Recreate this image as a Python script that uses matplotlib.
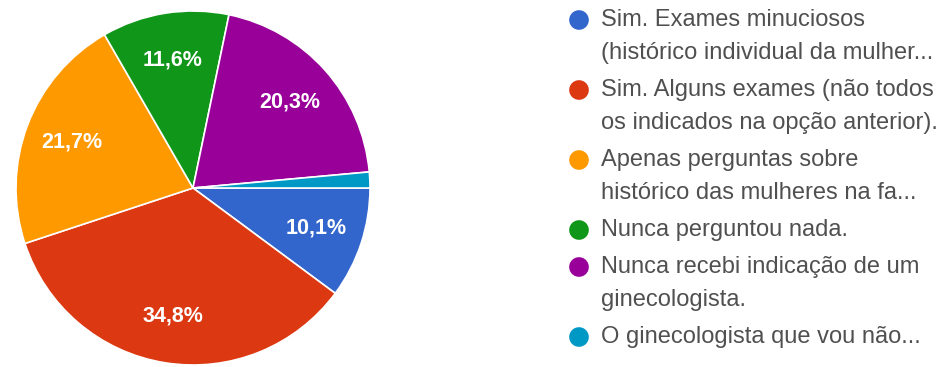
import matplotlib.pyplot as plt

plt.rcParams['font.family'] = ['Liberation Sans', 'DejaVu Sans']

# respostas (69 no total)
respostas = [7, 24, 15, 8, 14, 1]
legendas = [
    "Sim. Exames minuciosos\n(histórico individual da mulher...",
    "Sim. Alguns exames (não todos\nos indicados na opção anterior).",
    "Apenas perguntas sobre\nhistórico das mulheres na fa...",
    "Nunca perguntou nada.",
    "Nunca recebi indicação de um\nginecologista.",
    "O ginecologista que vou não...",
]
cores = ['#3366cc', '#dc3912', '#ff9900', '#109618', '#990099', '#0099c6']

W, H = 950, 367
fig = plt.figure(figsize=(W / 100, H / 100), dpi=100)

# pizza: centro em (193, 188) px, raio 177 px
cx, cy, r = 193, 188, 177
ax = fig.add_axes([(cx - r) / W, (H - cy - r) / H, 2 * r / W, 2 * r / H])


def rotulo(p):
    return f"{p:.1f}%".replace('.', ',') if p > 5 else ''


fatias, textos, pct = ax.pie(respostas, colors=cores, startangle=0, counterclock=False,
                             autopct=rotulo, pctdistance=0.73,
                             wedgeprops=dict(edgecolor='white', linewidth=1.2))
for t in pct:
    t.set_color('white')
    t.set_fontsize(15.5)
    t.set_fontweight('bold')
ax.set_xlim(-1, 1)
ax.set_ylim(-1, 1)
ax.set_aspect('equal')

# legenda desenhada à mão
leg = fig.add_axes([0, 0, 1, 1])
leg.set_xlim(0, W)
leg.set_ylim(H, 0)
leg.axis('off')
y = 20
for cor, txt in zip(cores, legendas):
    leg.scatter([579], [y], s=200, color=cor, edgecolors='none')
    linhas = txt.split('\n')
    for i, l in enumerate(linhas):
        leg.text(601, y + i * 33, l, fontsize=17, color='#505050', va='center', ha='left')
    y += 33 * (len(linhas) - 1) + 37

fig.savefig('out.png', dpi=100, facecolor='white')
